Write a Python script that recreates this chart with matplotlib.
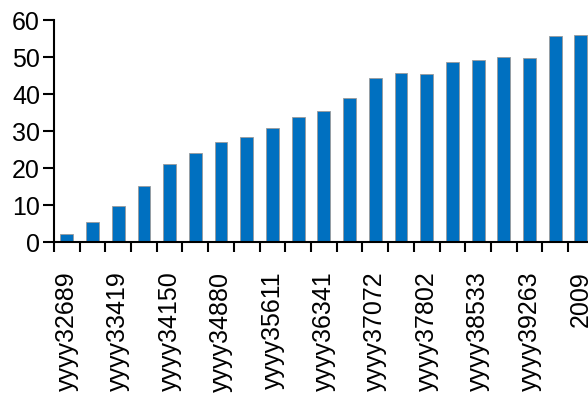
import numpy as np
import matplotlib
matplotlib.use("Agg")
from matplotlib import pyplot as plt

plt.rcParams['font.family'] = ['Liberation Sans', 'DejaVu Sans']

# one bar per year, a label on every other bar
labels = ['yyyy32689', '', 'yyyy33419', '', 'yyyy34150', '', 'yyyy34880', '',
          'yyyy35611', '', 'yyyy36341', '', 'yyyy37072', '', 'yyyy37802', '',
          'yyyy38533', '', 'yyyy39263', '', '2009']
values = [2.4, 5.5, 9.7, 15.2, 21.2, 24.0, 27.1, 28.4, 30.9, 33.7, 35.4,
          39.0, 44.3, 45.8, 45.3, 48.7, 49.1, 49.9, 49.7, 55.7, 56.0]

x = np.arange(len(values))

fig = plt.figure(figsize=(5.88, 4.0), dpi=100)
ax = fig.add_axes([0.0918, 0.394, 0.918, 0.556])

ax.bar(x, values, width=0.5, color='#0070C0', edgecolor='#9a9a9a', linewidth=0.6)

ax.set_xlim(-0.5, len(values) - 0.5)
ax.set_ylim(0, 60)
ax.set_yticks(range(0, 61, 10))

# labels centred on bars, tick marks on the category boundaries
ax.set_xticks(x)
ax.set_xticklabels(labels, rotation=90)
ax.set_xticks(np.arange(len(values) + 1) - 0.5, minor=True)
ax.tick_params(axis='x', which='major', length=0, pad=21, labelsize=18)
ax.tick_params(axis='x', which='minor', length=7.5, width=1.5, direction='out')
ax.tick_params(axis='y', length=8, width=1.5, pad=2, labelsize=18)

for side in ['top', 'right']:
    ax.spines[side].set_visible(False)
for side in ['left', 'bottom']:
    ax.spines[side].set_linewidth(1.5)

fig.savefig('out.png', dpi=100)
